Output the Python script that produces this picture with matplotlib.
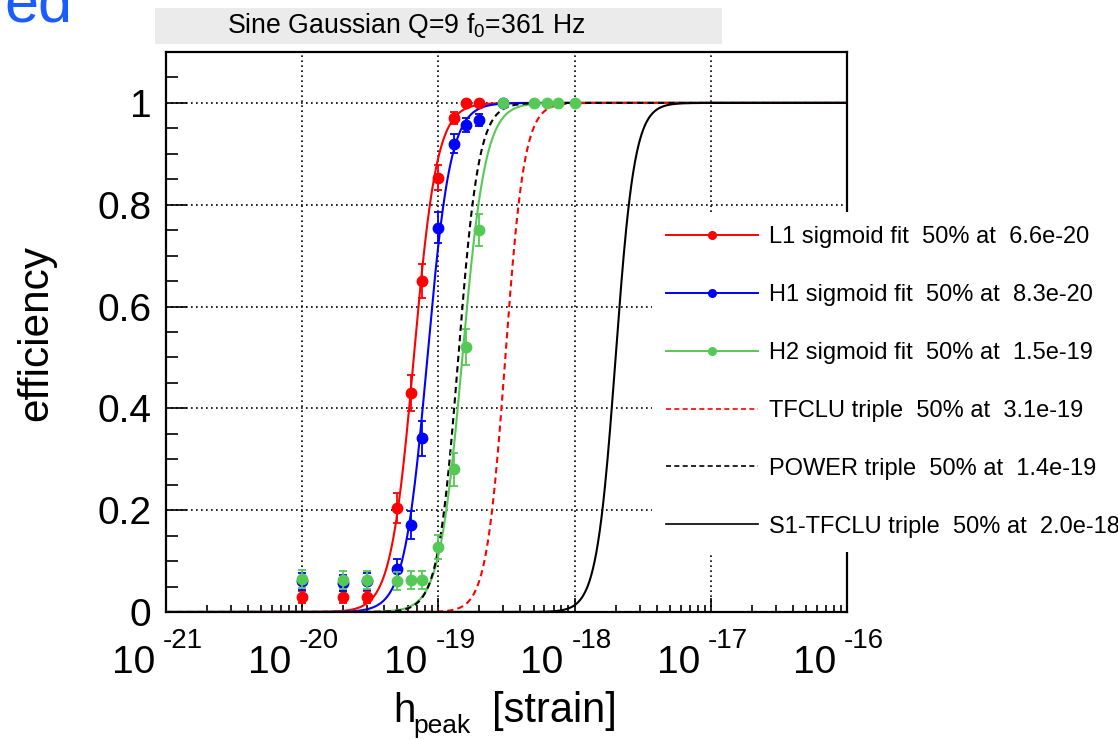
import numpy as np
import matplotlib
matplotlib.use("Agg")
import matplotlib.pyplot as plt
import matplotlib.transforms as mtransforms
from matplotlib.patches import Rectangle
from matplotlib.lines import Line2D
from matplotlib.ticker import FixedLocator, LogLocator, MultipleLocator, NullFormatter, FuncFormatter

plt.rcParams['font.family'] = ['Liberation Sans', 'DejaVu Sans']
plt.rcParams['mathtext.fontset'] = 'custom'
plt.rcParams['mathtext.rm'] = 'Liberation Sans'
plt.rcParams['mathtext.it'] = 'Liberation Sans'

# injected amplitudes [strain]
h_amp = [1e-20, 2e-20, 3e-20, 5e-20, 6.3e-20, 7.6e-20, 1e-19, 1.3e-19,
         1.6e-19, 2e-19, 3e-19, 5e-19, 6.3e-19, 7.6e-19, 1e-18]

# measured efficiencies per detector
l1_eff = [0.03, 0.03, 0.03, 0.204, 0.43, 0.65, 0.853, 0.97, 1.0, 1.0]
l1_err = [0.012, 0.012, 0.012, 0.029, 0.035, 0.034, 0.025, 0.012, 0.0, 0.0]
h1_eff = [0.06, 0.057, 0.06, 0.084, 0.171, 0.341, 0.755, 0.92, 0.957, 0.967, 1.0]
h1_err = [0.017, 0.016, 0.017, 0.02, 0.027, 0.034, 0.03, 0.019, 0.014, 0.012, 0.0]
h2_eff = [0.065, 0.063, 0.063, 0.061, 0.063, 0.063, 0.128, 0.28, 0.52, 0.75,
          1.0, 1.0, 1.0, 1.0, 1.0]
h2_err = [0.017, 0.017, 0.017, 0.017, 0.017, 0.017, 0.024, 0.032, 0.035, 0.031,
          0.0, 0.0, 0.0, 0.0, 0.0]

# sigmoid fit results: 50% point and width (decades)
fit_labels = ['L1 sigmoid fit  50% at  6.6e-20',
              'H1 sigmoid fit  50% at  8.3e-20',
              'H2 sigmoid fit  50% at  1.5e-19',
              'TFCLU triple  50% at  3.1e-19',
              'POWER triple  50% at  1.4e-19',
              'S1-TFCLU triple  50% at  2.0e-18']
fit_h50 = [6.6e-20, 8.3e-20, 1.5e-19, 3.1e-19, 1.4e-19, 2.0e-18]
fit_width = [0.085, 0.085, 0.085, 0.07, 0.075, 0.07]

decades = [-21, -20, -19, -18, -17, -16]
yticks = [0, 0.2, 0.4, 0.6, 0.8, 1.0]

RED = '#ff0000'
BLUE = '#0000ff'
GREEN = '#55c955'


def sigmoid(h, h50, w):
    return 1.0 / (1.0 + np.exp(-(np.log10(h) - np.log10(h50)) / w))


W, H = 1118, 739
fig = plt.figure(figsize=(W / 100, H / 100), dpi=100)
fig.patch.set_facecolor('white')
ax = fig.add_axes([166 / W, 1 - 612 / H, (847 - 166) / W, (612 - 52) / H])

hh = np.logspace(-21, -16, 800)
styles = [dict(color=RED, ls='-'), dict(color=BLUE, ls='-'), dict(color=GREEN, ls='-'),
          dict(color=RED, ls=(0, (3, 2))), dict(color='black', ls=(0, (3, 2))),
          dict(color='black', ls='-')]
points = [(l1_eff, l1_err), (h1_eff, h1_err), (h2_eff, h2_err)]

handles = []
for i in range(6):
    st = styles[i]
    ax.plot(hh, sigmoid(hh, fit_h50[i], fit_width[i]), color=st['color'],
            ls=st['ls'], lw=1.5, zorder=3)
    if i < 3:
        eff, err = points[i]
        n = len(eff)
        ax.errorbar(h_amp[:n], eff, yerr=err, fmt='o', color=st['color'], ms=7.5,
                    elinewidth=1.3, capsize=3, capthick=1.3, zorder=4 + i)
        handles.append(Line2D([], [], color=st['color'], lw=1.4, marker='o', ms=5.5))
    else:
        handles.append(Line2D([], [], color=st['color'], lw=1.2, ls=st['ls']))

ax.set_xscale('log')
ax.set_xlim(1e-21, 1e-16)
ax.set_ylim(0, 1.1)

ax.xaxis.set_major_locator(FixedLocator([10.0 ** d for d in decades]))
ax.xaxis.set_minor_locator(LogLocator(base=10, subs=np.arange(2, 10), numticks=20))
ax.xaxis.set_major_formatter(NullFormatter())
ax.xaxis.set_minor_formatter(NullFormatter())
ax.yaxis.set_major_locator(FixedLocator(yticks))
ax.yaxis.set_minor_locator(MultipleLocator(0.05))
ax.yaxis.set_major_formatter(FuncFormatter(lambda v, p: '%g' % v))

ax.tick_params(axis='both', which='both', direction='in', top=False, right=False,
               width=1.2)
ax.tick_params(axis='x', which='major', length=10)
ax.tick_params(axis='x', which='minor', length=5)
ax.tick_params(axis='y', which='major', length=15, labelsize=28, pad=10.5)
ax.tick_params(axis='y', which='minor', length=8.5)
for sp in ax.spines.values():
    sp.set_linewidth(1.6)

ax.grid(True, which='major', color='black', lw=1.2, ls=(0, (1, 2)))
ax.set_axisbelow(False)

# x tick labels as 10 with raised exponent
base_tr = ax.get_xaxis_transform()
for d in decades:
    ax.text(10.0 ** d, 0, '10', fontsize=28, ha='right', va='baseline',
            transform=mtransforms.offset_copy(base_tr, fig=fig, x=-11, y=-61, units='dots'))
    ax.text(10.0 ** d, 0, '%d' % d, fontsize=20, ha='left', va='baseline',
            transform=mtransforms.offset_copy(base_tr, fig=fig, x=-3, y=-36, units='dots'))

# axis titles
fig.text(36 / W, 1 - 333 / H, 'efficiency', rotation=90, ha='center', va='center', fontsize=30.5)
fig.text(393 / W, 1 - 722 / H, 'h', fontsize=29, va='baseline', ha='left')
fig.text(413 / W, 1 - 733 / H, 'peak', fontsize=19, va='baseline', ha='left')
fig.text(617 / W, 1 - 722 / H, '[strain]', fontsize=30, va='baseline', ha='right')

# title box
fig.patches.append(Rectangle((155 / W, 1 - 44 / H), (722 - 155) / W, 36 / H,
                             transform=fig.transFigure, facecolor='#ebebeb',
                             edgecolor='none', zorder=0))
fig.text(227 / W, 1 - 33 / H, 'Sine Gaussian Q=9 f$_0$=361 Hz', fontsize=19.2,
         va='baseline', ha='left')

# leftover slide text
fig.text(4 / W, 1 - 22 / H, 'ed', color='#1a5cff', fontsize=44, va='baseline', ha='left')

leg = ax.legend(handles, fit_labels, loc='upper left',
                bbox_to_anchor=(652 / W, 1 - 212 / H), bbox_transform=fig.transFigure,
                borderaxespad=0, frameon=True, fancybox=False, facecolor='white',
                edgecolor='none', framealpha=1.0, fontsize=17, handlelength=3.9,
                handletextpad=0.45, labelspacing=1.52, borderpad=0.6)
leg.set_zorder(20)

fig.savefig('out.png', dpi=100)
